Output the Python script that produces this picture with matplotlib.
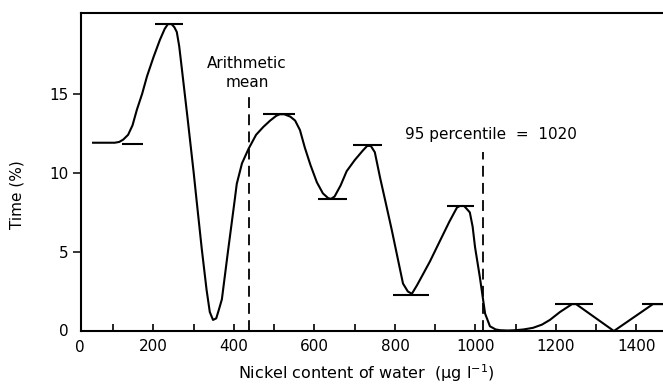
import matplotlib
matplotlib.use("Agg")
import matplotlib.pyplot as plt

plt.rcParams['font.family'] = ['DejaVu Sans']

# Curve (nickel content vs. % of time)
nickel = [50, 104, 115, 125, 137, 148, 159, 172, 184, 200, 216, 228, 236, 245, 252,
          258, 264, 270, 285, 300, 307, 320, 332, 340, 348, 356, 362, 370, 385, 402,
          407, 420, 436, 455, 473, 490, 505, 514, 525, 540, 552, 564, 576, 590, 606,
          621, 634, 641, 650, 665, 680, 700, 720, 731, 740, 750, 763, 778, 792, 806,
          820, 832, 842, 855, 870, 887, 910, 935, 954, 961, 972, 986, 993, 999, 1011,
          1024, 1036, 1050, 1061, 1080, 1100, 1120, 1143, 1165, 1185, 1210, 1240, 1250,
          1344, 1441, 1466]
time_pct = [11.9, 11.9, 11.95, 12.1, 12.4, 13.0, 14.0, 15.0, 16.1, 17.3, 18.4, 19.1, 19.4, 19.4, 19.2,
            18.9, 18.0, 16.7, 13.4, 10.0, 8.3, 5.2, 2.6, 1.2, 0.7, 0.8, 1.3, 2.0, 5.0, 8.3,
            9.3, 10.6, 11.5, 12.4, 12.9, 13.3, 13.6, 13.7, 13.7, 13.55, 13.3, 12.7, 11.6, 10.5, 9.4,
            8.7, 8.4, 8.35, 8.5, 9.2, 10.1, 10.8, 11.4, 11.7, 11.7, 11.3, 9.7, 8.0, 6.4, 4.7,
            3.0, 2.5, 2.35, 2.9, 3.6, 4.4, 5.6, 6.9, 7.8, 7.9, 7.9, 7.5, 6.6, 5.3, 3.4,
            1.1, 0.3, 0.1, 0.05, 0.03, 0.05, 0.1, 0.2, 0.4, 0.7, 1.2, 1.7, 1.7,
            0.0, 1.7, 1.7]

# Horizontal caps at extrema
cap_start = [122, 204, 472, 609, 696, 795, 929, 1198, 1414]
cap_end = [174, 273, 552, 680, 768, 884, 996, 1292, 1480]
cap_level = [11.85, 19.4, 13.7, 8.35, 11.75, 2.3, 7.9, 1.7, 1.7]

# Reference lines
mean_x = 438
mean_top = 14.8
pct95_x = 1020
pct95_top = 11.3

x_major = [200, 400, 600, 800, 1000, 1200, 1400]
x_minor = [100, 300, 500, 700, 900, 1100, 1300]
y_ticks = [5, 10, 15]

W, H = 663, 385
fig = plt.figure(figsize=(W / 100, H / 100), dpi=100)
ax = fig.add_axes([81 / W, 1 - 331 / H, 1 - 81 / W, (331 - 13) / H])

lw = 1.5
ax.plot(nickel, time_pct, color='black', lw=lw, solid_joinstyle='round')
ax.hlines(cap_level, cap_start, cap_end, color='black', lw=lw)

ax.plot([mean_x, mean_x], [0, mean_top], color='black', lw=1.3, dashes=(6, 3.5))
ax.plot([pct95_x, pct95_x], [0, pct95_top], color='black', lw=1.3, dashes=(6, 3.5))

ax.set_xlim(20, 1466)
ax.set_ylim(0, 20.1)

fs = 11
ax.set_xticks(x_major)
ax.set_xticklabels([str(v) for v in x_major])
ax.set_xticks(x_minor, minor=True)
ax.tick_params(axis='x', which='both', direction='in', length=5, width=1.2, labelsize=fs, pad=6)
ax.set_yticks(y_ticks)
ax.set_yticklabels([str(v) for v in y_ticks])
ax.tick_params(axis='y', direction='out', length=6, width=1.1, labelsize=fs, pad=3)

for s in ['left', 'bottom', 'top']:
    ax.spines[s].set_linewidth(1.5)
ax.spines['right'].set_visible(False)

# axis origin labels
fig.text(80 / W, 1 - 347 / H, '0', ha='center', va='center', fontsize=fs)
fig.text(69 / W, 1 - 331 / H, '0', ha='right', va='center', fontsize=fs)

fig.text(366 / W, 1 - 373 / H, 'Nickel content of water  (\u03bcg l$^{-1}$)',
         ha='center', va='center', fontsize=11.5)
fig.text(17 / W, 1 - 195 / H, 'Time (%)', ha='center', va='center', rotation=90, fontsize=11)

fig.text(247 / W, 1 - 73 / H, 'Arithmetic\nmean', ha='center', va='center',
         fontsize=fs, linespacing=1.3)
fig.text(491 / W, 1 - 135 / H, '95 percentile  =  1020', ha='center', va='center', fontsize=fs)

fig.savefig('out.png', dpi=100)
